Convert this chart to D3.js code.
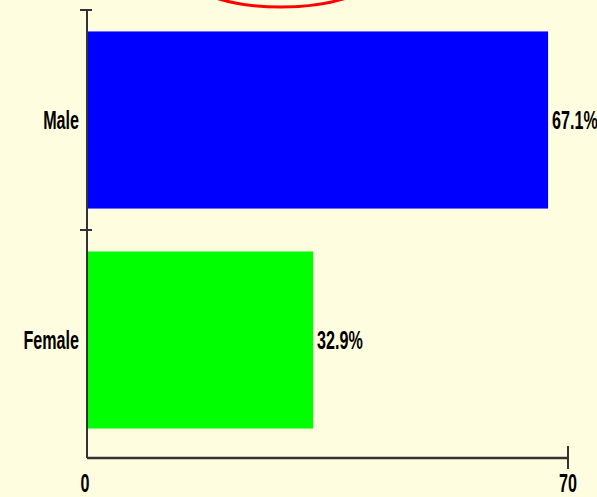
<!DOCTYPE html>
<html>
<head>
<meta charset="utf-8">
<script src="https://cdn.jsdelivr.net/npm/d3@7"></script>
<style>
  body { margin: 0; background: #FFFDE0; }
  text { font-family: "Liberation Sans", Arial, sans-serif; font-weight: bold; fill: #000; }
</style>
</head>
<body>
<div id="chart"></div>
<script>
const categories = ['Male', 'Female'];
const values = [67.1, 32.9];
const colors = ['#0000FF', '#00FF00'];
const xTicks = [0, 70];

const width = 597;
const height = 497;
const plotLeft = 87;
const plotRight = 568;
const plotTop = 10;
const plotBottom = 458;
const squeeze = 0.62; // condensed look

const svg = d3.select('#chart')
    .append('svg')
    .attr('width', width)
    .attr('height', height);

svg.append('rect')
    .attr('width', width)
    .attr('height', height)
    .attr('fill', '#FFFDE0');

const xScale = d3.scaleLinear()
    .domain([0, 70])
    .range([plotLeft, plotRight]);

const yScale = d3.scaleBand()
    .domain(categories)
    .range([plotTop, 450])
    .paddingInner(0.195)
    .paddingOuter(0.0975);

// red annotation ring, cut by the top edge
svg.append('ellipse')
    .attr('cx', 281)
    .attr('cy', -30)
    .attr('rx', 100)
    .attr('ry', 37)
    .attr('fill', 'none')
    .attr('stroke', '#FF0000')
    .attr('stroke-width', 3);

// bars
svg.selectAll('rect.bar')
    .data(categories)
    .enter()
    .append('rect')
    .attr('class', 'bar')
    .attr('x', xScale(0))
    .attr('y', d => yScale(d))
    .attr('width', (d, i) => xScale(values[i]) - xScale(0))
    .attr('height', yScale.bandwidth())
    .attr('fill', (d, i) => colors[i]);

// axes drawn by hand, ticks from the scales
const axisColor = '#333';
svg.append('line')
    .attr('x1', plotLeft).attr('x2', plotLeft)
    .attr('y1', plotTop).attr('y2', plotBottom)
    .attr('stroke', axisColor).attr('stroke-width', 2);
svg.append('line')
    .attr('x1', plotLeft).attr('x2', plotRight)
    .attr('y1', plotBottom).attr('y2', plotBottom)
    .attr('stroke', axisColor).attr('stroke-width', 2.5);

const step = yScale.step();
const yBounds = categories.map(d => yScale(d) - step * yScale.paddingInner() / 2);
svg.append('g')
    .selectAll('line')
    .data(yBounds)
    .enter()
    .append('line')
    .attr('x1', plotLeft - 7).attr('x2', plotLeft + 5)
    .attr('y1', d => d).attr('y2', d => d)
    .attr('stroke', axisColor).attr('stroke-width', 2);

svg.append('g')
    .selectAll('line')
    .data(xTicks.slice(1))
    .enter()
    .append('line')
    .attr('x1', d => xScale(d)).attr('x2', d => xScale(d))
    .attr('y1', plotBottom - 12).attr('y2', plotBottom + 11)
    .attr('stroke', axisColor).attr('stroke-width', 2);

// text helper, squeezed horizontally
function label(g, x, y, txt, anchor) {
    g.append('text')
        .attr('transform', 'translate(' + x + ',' + y + ') scale(' + squeeze + ',1)')
        .attr('text-anchor', anchor)
        .attr('font-size', 26)
        .text(txt);
}

const g = svg.append('g');
categories.forEach((d, i) => {
    const cy = yScale(d) + yScale.bandwidth() / 2 + 9;
    label(g, plotLeft - 8, cy, d, 'end');
    label(g, xScale(values[i]) + 4, cy, values[i].toFixed(1) + '%', 'start');
});
xTicks.forEach(t => label(g, xScale(t) - (t === 0 ? 2 : 0), 492, String(t), 'middle'));
</script>
</body>
</html>
